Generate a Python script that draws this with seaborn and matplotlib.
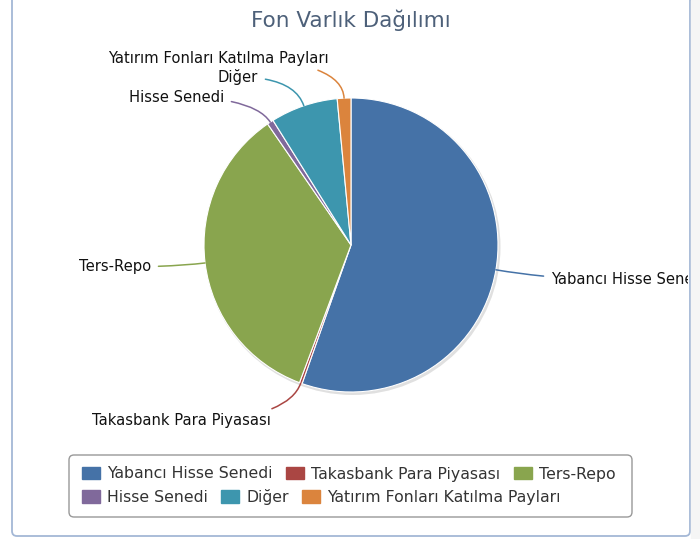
import matplotlib
matplotlib.use('Agg')
import matplotlib.pyplot as plt
import seaborn as sns
from matplotlib.patches import FancyBboxPatch, Circle, Patch
from matplotlib.transforms import Bbox, TransformedBbox
import numpy as np

# ====== DATA

categories = ['Yabancı Hisse Senedi', 'Takasbank Para Piyasası', 'Ters-Repo',
              'Hisse Senedi', 'Diğer', 'Yatırım Fonları Katılma Payları']
shares = [55.4, 0.3, 34.7, 0.7, 7.4, 1.5]
colors = ['#4572A7', '#AA4643', '#89A54E', '#80699B', '#3D96AE', '#DB843D']
title = 'Fon Varlık Dağılımı'

# ====== LAYOUT (pixels, y from top)

W, H = 700, 539
CX, CY, R = 351, 245, 147
label_pos = {
    'Yabancı Hisse Senedi': (551, 280, 'left'),
    'Takasbank Para Piyasası': (271, 421, 'right'),
    'Ters-Repo': (151, 267, 'right'),
    'Hisse Senedi': (224, 97, 'right'),
    'Diğer': (258, 77, 'right'),
    'Yatırım Fonları Katılma Payları': (329, 58, 'right'),
}

sns.set_theme(style='white')
plt.rcParams['font.family'] = ['DejaVu Sans']

fig = plt.figure(figsize=(W / 100, H / 100), dpi=100)
ax = fig.add_axes([0, 0, 1, 1])

# chart frame
frame = FancyBboxPatch((12, 3), 678, 560, boxstyle='round,pad=0,rounding_size=5',
                       fc='white', ec='#a4b8d6', lw=1.3, zorder=0)
ax.add_patch(frame)
ax.axvspan(691, 700, color='#f5f5f5', zorder=0)
clip_box = TransformedBbox(Bbox([[12, 0], [688, H]]), ax.transData)

# soft shadow
ax.add_patch(Circle((CX + 1.5, H - CY - 2), R + 1, fc='#000000', alpha=0.12, lw=0, zorder=1))

wedges, _ = ax.pie(shares, colors=sns.color_palette(colors), startangle=90, counterclock=False,
                   center=(CX, H - CY), radius=R,
                   wedgeprops=dict(edgecolor='white', linewidth=0.8, zorder=2))

for w, name, c in zip(wedges, categories, colors):
    mid = np.deg2rad((w.theta1 + w.theta2) / 2)
    ex = CX + R * np.cos(mid)
    ey = H - CY + R * np.sin(mid)
    tx, ty, ha = label_pos[name]
    ann = ax.annotate(name, xy=(ex, ey), xytext=(tx, H - ty), ha=ha, va='center',
                      fontsize=10.6, color='#111111', annotation_clip=False,
                      arrowprops=dict(arrowstyle='-', color=c, lw=1.1, shrinkA=3, shrinkB=0,
                                      connectionstyle=f'angle3,angleA=0,angleB={np.rad2deg(mid):.1f}'))
    ann.set_clip_on(True)
    ann.set_clip_box(clip_box)

ax.text(351, H - 20, title, ha='center', va='center', fontsize=15.5, color='#4d6079')

ax.set_xlim(0, W)
ax.set_ylim(0, H)
ax.set_aspect('equal')
ax.axis('off')

# legend box
ax.add_patch(FancyBboxPatch((69, H - 517), 563, 62, boxstyle='round,pad=0,rounding_size=5',
                            fc='white', ec='#999999', lw=1.0, zorder=3))
handles = [Patch(fc=c, ec=c) for c in colors]
leg_kw = dict(frameon=False, fontsize=11.3, labelcolor='#333333', handlelength=1.15, handleheight=0.85,
              handletextpad=0.45, columnspacing=0.85, borderpad=0, borderaxespad=0, loc='center left')
leg1 = ax.legend(handles[:3], categories[:3], ncol=3, bbox_to_anchor=(82 / W, 1 - 474 / H), **leg_kw)
leg1.set_zorder(4)
ax.add_artist(leg1)
leg2 = ax.legend(handles[3:], categories[3:], ncol=3, bbox_to_anchor=(82 / W, 1 - 497 / H), **leg_kw)
leg2.set_zorder(4)

fig.savefig('out.png', dpi=100)
